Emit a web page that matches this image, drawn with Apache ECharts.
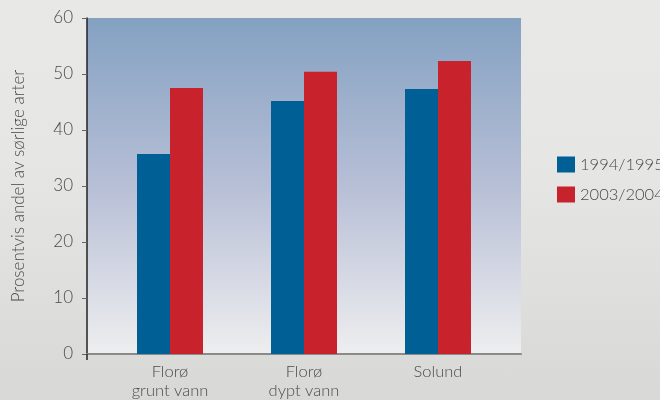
<!DOCTYPE html>
<html>
<head>
<meta charset="utf-8">
<script src="https://cdn.jsdelivr.net/npm/echarts@6/dist/echarts.min.js"></script>
<style>
html,body{margin:0;padding:0;}
body{width:660px;height:400px;background:linear-gradient(#e8e8e6 0%,#e6e6e4 40%,#d8d8d6 100%);}
#c{width:660px;height:400px;}
</style>
</head>
<body>
<div id="c"></div>
<script>
const categories = ['Florø\ngrunt vann', 'Florø\ndypt vann', 'Solund'];
const seriesNames = ['1994/1995', '2003/2004'];
const values1994 = [35.7, 45.2, 47.3];
const values2003 = [47.5, 50.4, 52.3];
const yTicks = {min: 0, max: 60, interval: 10};
const yName = 'Prosentvis andel av sørlige arter';

const FONT = 'Lato';
const W = 300;
const chart = echarts.init(document.getElementById('c'));
chart.setOption({
  backgroundColor: 'transparent',
  textStyle: {fontFamily: FONT},
  legend: {
    orient: 'vertical', left: 552, top: 151,
    itemWidth: 18, itemHeight: 16, itemGap: 13,
    icon: 'rect',
    textStyle: {fontFamily: FONT, fontWeight: W, fontSize: 16.5, color: '#4a4a4a'},
    data: seriesNames
  },
  grid: [
    {left: 87, right: 139, top: 18, bottom: 46, show: true, borderWidth: 0,
     backgroundColor: new echarts.graphic.LinearGradient(0, 0, 0, 1, [
       {offset: 0, color: '#84a1c2'},
       {offset: 0.5, color: '#b7bfd6'},
       {offset: 1, color: '#eeeeef'}
     ])},
    {left: 103, right: 155, top: 18, bottom: 46}
  ],
  xAxis: [
    {gridIndex: 0, type: 'value', min: 0, max: 1, interval: 1,
     axisLine: {show: true, lineStyle: {color: '#8a8a8a', width: 2}},
     axisTick: {show: true, customValues: [0], length: 6, lineStyle: {color: '#222', width: 1.5}},
     axisLabel: {show: false}, splitLine: {show: false}},
    {gridIndex: 1, type: 'category', data: categories,
     axisLine: {show: false}, axisTick: {show: false},
     axisLabel: {fontFamily: FONT, fontWeight: W, fontSize: 16.5, color: '#4a4a4a', lineHeight: 19, margin: 8}}
  ],
  yAxis: [
    {gridIndex: 0, type: 'value', min: yTicks.min, max: yTicks.max, interval: yTicks.interval,
     name: yName, nameLocation: 'middle', nameGap: 60, nameRotate: 90,
     nameTextStyle: {fontFamily: FONT, fontWeight: W, fontSize: 17, color: '#4a4a4a'},
     axisLine: {show: true, lineStyle: {color: '#222', width: 1.5}},
     axisTick: {show: true, length: 5, lineStyle: {color: '#666'}},
     axisLabel: {fontFamily: FONT, fontWeight: W, fontSize: 17, color: '#4a4a4a', margin: 14},
     splitLine: {show: false}},
    {gridIndex: 1, type: 'value', min: yTicks.min, max: yTicks.max, interval: yTicks.interval, show: false}
  ],
  series: [
    {name: seriesNames[0], type: 'bar', xAxisIndex: 1, yAxisIndex: 1, data: values1994,
     barWidth: 33, barGap: '0%', itemStyle: {color: '#005f94'}},
    {name: seriesNames[1], type: 'bar', xAxisIndex: 1, yAxisIndex: 1, data: values2003,
     barWidth: 33, barGap: '0%', itemStyle: {color: '#c8232c'}}
  ]
});
</script>
</body>
</html>
